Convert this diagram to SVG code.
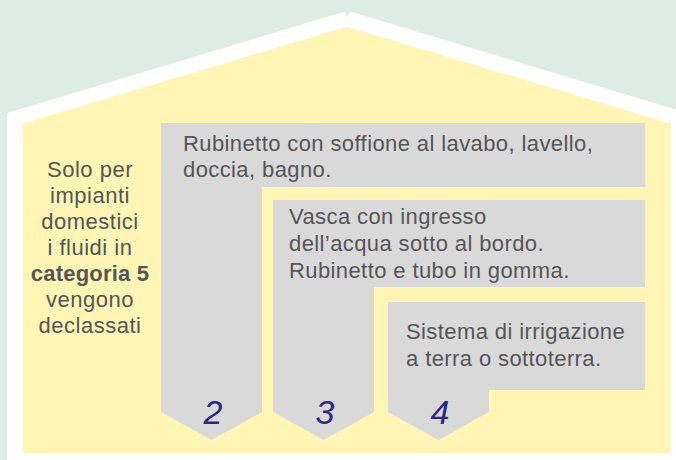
<svg xmlns="http://www.w3.org/2000/svg" width="676" height="460" viewBox="0 0 676 460">
  <style>
    .t { font-family: "Liberation Sans", Arial, sans-serif; font-size: 22px; fill: #555557; letter-spacing: 0.4px; }
    .c { text-anchor: middle; letter-spacing: 0.5px; }
    .b { font-weight: bold; letter-spacing: 0.2px; }
    .box { fill: #D9D9D9; }
    .num { font-family: "Liberation Sans", Arial, sans-serif; font-size: 34px; font-style: italic; fill: #2D2683; text-anchor: middle; }
  </style>
  <rect x="0" y="0" width="676" height="460" fill="#DDEDE3"/>
  <g id="house">
    <polygon points="7,113 345,11.5 347.3,17 350,11.5 676,109.5 676,460 7,460" fill="#FFFFFF"/>
    <polygon points="22.7,123.5 347.3,26.7 670.7,123.5 670.7,453 22.7,453" fill="#FFF5B5"/>
  </g>
  <g id="note">
    <text class="t c" x="90" y="177">Solo per</text>
    <text class="t c" x="90" y="203">impianti</text>
    <text class="t c" x="90" y="229">domestici</text>
    <text class="t c" x="90" y="255">i fluidi in</text>
    <text class="t c b" x="90" y="281">categoria 5</text>
    <text class="t c" x="90" y="307">vengono</text>
    <text class="t c" x="90" y="333">declassati</text>
  </g>
  <g id="cat2">
    <polygon class="box" points="161,123 645,123 645,187 262,187 262,412 211.5,440 161,412"/>
    <text class="t" x="183" y="151">Rubinetto con soffione al lavabo, lavello,</text>
    <text class="t" x="183" y="177">doccia, bagno.</text>
    <text class="num" x="213" y="424">2</text>
  </g>
  <g id="cat3">
    <polygon class="box" points="273,200 645,200 645,287 374,287 374,412 323.5,440 273,412"/>
    <text class="t" x="289" y="224">Vasca con ingresso</text>
    <text class="t" x="289" y="251">dell’acqua sotto al bordo.</text>
    <text class="t" x="289" y="278">Rubinetto e tubo in gomma.</text>
    <text class="num" x="325" y="424">3</text>
  </g>
  <g id="cat4">
    <polygon class="box" points="388,302 645,302 645,390 489,390 489,412 438.5,440 388,412"/>
    <text class="t" x="406" y="339">Sistema di irrigazione</text>
    <text class="t" x="406" y="366">a terra o sottoterra.</text>
    <text class="num" x="440" y="424">4</text>
  </g>
</svg>
